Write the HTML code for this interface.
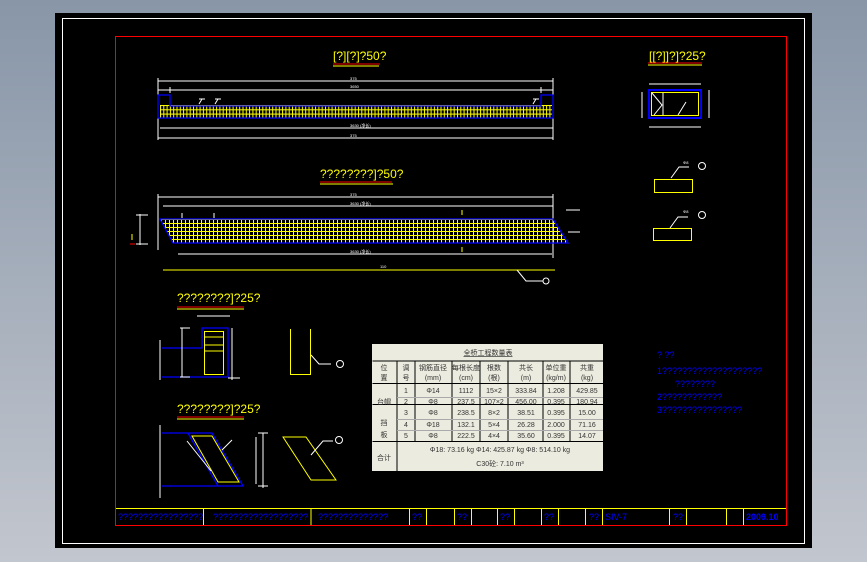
<!DOCTYPE html>
<html><head><meta charset="utf-8"><style>
html,body{margin:0;padding:0;width:867px;height:562px;overflow:hidden;background:linear-gradient(#8896a8,#c2c6ce);}
svg{position:absolute;left:0;top:0}
text{font-family:"Liberation Sans","Noto Sans CJK SC",sans-serif}
</style></head><body>
<svg width="867" height="562" viewBox="0 0 867 562">
<defs>
<pattern id="m1" x="160" y="105" width="3.3" height="4.3" patternUnits="userSpaceOnUse">
<rect x="0" y="0" width="1" height="4.3" fill="#ff0"/><rect x="0" y="0" width="3.3" height="1" fill="#ff0"/></pattern>
<pattern id="m2" x="173" y="219" width="4" height="4" patternUnits="userSpaceOnUse">
<rect x="0" y="0" width="1" height="4" fill="#ff0"/><rect x="0" y="0" width="4" height="1" fill="#ff0"/></pattern>
</defs>
<rect x="55" y="13" width="757" height="535" fill="#000"/>
<rect x="62.5" y="18.5" width="742" height="525" fill="none" stroke="#fff"/>
<rect x="115.5" y="36.5" width="671" height="489" fill="none" stroke="#f00"/>
<line x1="116" y1="508.5" x2="786" y2="508.5" stroke="#ff0"/>
<g stroke="#ff0"><line x1="203.5" y1="508" x2="203.5" y2="525"/><line x1="311" y1="508" x2="311" y2="525"/><line x1="409.5" y1="508" x2="409.5" y2="525"/><line x1="426.5" y1="508" x2="426.5" y2="525"/><line x1="454.5" y1="508" x2="454.5" y2="525"/><line x1="471.5" y1="508" x2="471.5" y2="525"/><line x1="497.5" y1="508" x2="497.5" y2="525"/><line x1="514.5" y1="508" x2="514.5" y2="525"/><line x1="541.5" y1="508" x2="541.5" y2="525"/><line x1="558.5" y1="508" x2="558.5" y2="525"/><line x1="585.5" y1="508" x2="585.5" y2="525"/><line x1="602.5" y1="508" x2="602.5" y2="525"/><line x1="669.5" y1="508" x2="669.5" y2="525"/><line x1="686.5" y1="508" x2="686.5" y2="525"/><line x1="726.5" y1="508" x2="726.5" y2="525"/><line x1="743.5" y1="508" x2="743.5" y2="525"/></g>
<g fill="#00f" font-size="9">
<text x="118" y="520">?????????????????</text><text x="213" y="520">???????????????????</text><text x="318" y="520">??????????????</text>
<text x="412" y="520">??</text><text x="457" y="520">??</text><text x="500" y="520">??</text><text x="544" y="520">??</text><text x="589" y="520">??</text><text x="605" y="520">SIV-7</text><text x="673" y="520">??</text><text x="746" y="520" font-weight="bold">2009.10</text></g>

<text x="333" y="60" fill="#ff0" font-size="12">[?][?]?50?</text>
<line x1="333" y1="64" x2="380" y2="64" stroke="#f00"/><line x1="333" y1="66" x2="379" y2="66" stroke="#ff0"/>
<g stroke="#fff" fill="none">
<path d="M158 81H553M158 90H553M160 128H553M158 138H553M158 78V140M553 78V140M170 87V93M541 87V93"/></g>
<rect x="160" y="105" width="392" height="13" fill="url(#m1)"/>
<path d="M158 118V95H170V106H541V95H553V118Z" fill="none" stroke="#00f" stroke-width="1.3"/>
<g fill="#fff" font-size="4"><text x="350" y="80">375</text><text x="350" y="88">3650</text><text x="350" y="127">3630 (净长)</text><text x="350" y="137">375</text></g>
<g stroke="#fff"><path d="M199 104l3-5M215 104l3-5M533 104l3-5M199 99h6M215 99h6M533 99h6"/></g>

<text x="320" y="178" fill="#ff0" font-size="12">????????]?50?</text>
<line x1="320" y1="182" x2="392" y2="182" stroke="#f00"/><line x1="320" y1="184" x2="393" y2="184" stroke="#ff0"/>
<g stroke="#fff" fill="none"><path d="M158 197H553M163 206H553M178 254H552M158 194V250M553 194V258M566 210H580M568 232H580"/></g>
<path d="M160 219H553L568 243H173Z" fill="url(#m2)"/>
<path d="M160 219H553L568 243H173Z" fill="none" stroke="#00f" stroke-width="1.3"/>
<g stroke="#fff"><path d="M140 214V245M136 215H148M136 244H148M182 218v-5M214 218v-5"/></g>
<line x1="163" y1="270" x2="555" y2="270" stroke="#ff0"/>
<path d="M517 270l9 11h17" stroke="#fff" fill="none"/><circle cx="546" cy="281" r="3" stroke="#fff" fill="none"/>
<g fill="#fff" font-size="4"><text x="350" y="196">375</text><text x="350" y="205">3630 (净长)</text><text x="350" y="253">3630 (净长)</text><text x="380" y="268">110</text></g>
<g stroke="#ff0"><line x1="462" y1="210" x2="462" y2="215"/><line x1="462" y1="247" x2="462" y2="252"/></g>
<line x1="132" y1="234" x2="132" y2="240" stroke="#ff0"/><line x1="130" y1="244" x2="135" y2="244" stroke="#f00"/>

<text x="649" y="60" fill="#ff0" font-size="12">[[?]]?]?25?</text>
<line x1="648" y1="63" x2="702" y2="63" stroke="#f00"/><line x1="648" y1="65" x2="702" y2="65" stroke="#ff0"/>
<rect x="649" y="90" width="52" height="28" fill="none" stroke="#00f" stroke-width="2"/>
<rect x="651.5" y="92.5" width="47" height="23" fill="none" stroke="#ff0"/>
<g stroke="#fff" fill="none"><path d="M649 84H701M649 127H701M642 92V118M709 90V118M652 93l10 12l-8 10M663 93V115M678 115l8-13"/></g>
<rect x="654.5" y="179.5" width="38" height="13" fill="none" stroke="#ff0"/>
<path d="M671 178l8-11h10" stroke="#fff" fill="none"/><circle cx="702" cy="166" r="3.5" stroke="#fff" fill="none"/>
<rect x="653.5" y="228.5" width="38" height="12" fill="none" stroke="#ff0"/>
<path d="M670 228l8-11h10" stroke="#fff" fill="none"/><circle cx="702" cy="215" r="3.5" stroke="#fff" fill="none"/>
<g fill="#fff" font-size="4"><text x="683" y="164">Φ8</text><text x="683" y="213">Φ8</text></g>

<text x="177" y="302" fill="#ff0" font-size="12">????????]?25?</text>
<line x1="177" y1="307" x2="244" y2="307" stroke="#f00"/><line x1="177" y1="309" x2="244" y2="309" stroke="#ff0"/>
<path d="M162 348H202V328H228V377H162" fill="none" stroke="#00f" stroke-width="1.3"/>
<rect x="204.5" y="331.5" width="19" height="43" fill="none" stroke="#ff0"/>
<g stroke="#ff0"><line x1="204" y1="337" x2="223" y2="337"/><line x1="204" y1="345" x2="223" y2="345"/><line x1="204" y1="351" x2="223" y2="351"/></g>
<g stroke="#fff" fill="none"><path d="M160 340V380M180 328H190M180 377H190M182 328V377M232 328V380M228 378H240M197 316H230"/></g>
<path d="M290.5 329V374.5H310.5V329" fill="none" stroke="#ff0"/>
<path d="M311 355l8 9h12" stroke="#fff" fill="none"/><circle cx="340" cy="364" r="3.5" stroke="#fff" fill="none"/>

<text x="177" y="413" fill="#ff0" font-size="12">????????]?25?</text>
<line x1="177" y1="417" x2="244" y2="417" stroke="#f00"/><line x1="177" y1="419" x2="244" y2="419" stroke="#ff0"/>
<path d="M162 433H212L243 486H162M188 433L218 486" fill="none" stroke="#00f" stroke-width="1.3"/>
<path d="M192 436H212L239 482H218Z" fill="none" stroke="#ff0"/>
<g stroke="#fff" fill="none"><path d="M160 425V498M258 433H268M258 486H268M256 437V484M263 433V488M187 441l24 30M222 450l10-10"/></g>
<path d="M283 437H306L336 480H311Z" fill="none" stroke="#ff0"/>
<path d="M311 455l12-14h10" stroke="#fff" fill="none"/><circle cx="339" cy="440" r="3.5" stroke="#fff" fill="none"/>

<rect x="372" y="344" width="231" height="127" fill="#ecebdf"/>
<g stroke="#000" stroke-width="1" fill="none">
<path d="M372.5 361H603M372.5 383.5H603M372.5 404.5H603M372.5 441.5H603M397 361V471M415 361V441M452 361V441M480 361V441M508 361V441M543 361V441M570 361V441"/>
<path d="M397 397.5H603M397 419.5H603M397 430.5H603" stroke="#aaa"/>
</g>
<g fill="#333" font-size="7" text-anchor="middle">
<text x="488" y="355" text-decoration="underline">全桥工程数量表</text>
<text x="384" y="370">位</text><text x="384" y="380">置</text><text x="406" y="370">调</text><text x="406" y="380">号</text>
<text x="433" y="370">钢筋直径</text><text x="433" y="380">(mm)</text><text x="466" y="370">每根长度</text><text x="466" y="380">(cm)</text>
<text x="494" y="370">根数</text><text x="494" y="380">(根)</text><text x="526" y="370">共长</text><text x="526" y="380">(m)</text>
<text x="556" y="370">单位重</text><text x="556" y="380">(kg/m)</text><text x="587" y="370">共重</text><text x="587" y="380">(kg)</text>
<text x="384" y="404">台帽</text><text x="384" y="425">挡</text><text x="384" y="437">板</text><text x="384" y="460">合计</text>
<text x="406" y="393">1</text><text x="406" y="404">2</text><text x="406" y="415">3</text><text x="406" y="427">4</text><text x="406" y="438">5</text>
<text x="433" y="393">Φ14</text><text x="433" y="404">Φ8</text><text x="433" y="415">Φ8</text><text x="433" y="427">Φ18</text><text x="433" y="438">Φ8</text>
<text x="466" y="393">1112</text><text x="466" y="404">237.5</text><text x="466" y="415">238.5</text><text x="466" y="427">132.1</text><text x="466" y="438">222.5</text>
<text x="494" y="393">15×2</text><text x="494" y="404">107×2</text><text x="494" y="415">8×2</text><text x="494" y="427">5×4</text><text x="494" y="438">4×4</text>
<text x="526" y="393">333.84</text><text x="526" y="404">456.00</text><text x="526" y="415">38.51</text><text x="526" y="427">26.28</text><text x="526" y="438">35.60</text>
<text x="556" y="393">1.208</text><text x="556" y="404">0.395</text><text x="556" y="415">0.395</text><text x="556" y="427">2.000</text><text x="556" y="438">0.395</text>
<text x="587" y="393">429.85</text><text x="587" y="404">180.94</text><text x="587" y="415">15.00</text><text x="587" y="427">71.16</text><text x="587" y="438">14.07</text>
<text x="500" y="452">Φ18: 73.16 kg    Φ14: 425.87 kg    Φ8: 514.10 kg</text>
<text x="500" y="466">C30砼: 7.10 m³</text>
</g>

<g fill="#00f" font-size="9"><text x="657" y="358">?   ??</text><text x="657" y="374">1????????????????????</text><text x="675" y="387">????????</text><text x="657" y="400">2????????????</text><text x="657" y="413">3????????????????</text></g>
</svg>
</body></html>
